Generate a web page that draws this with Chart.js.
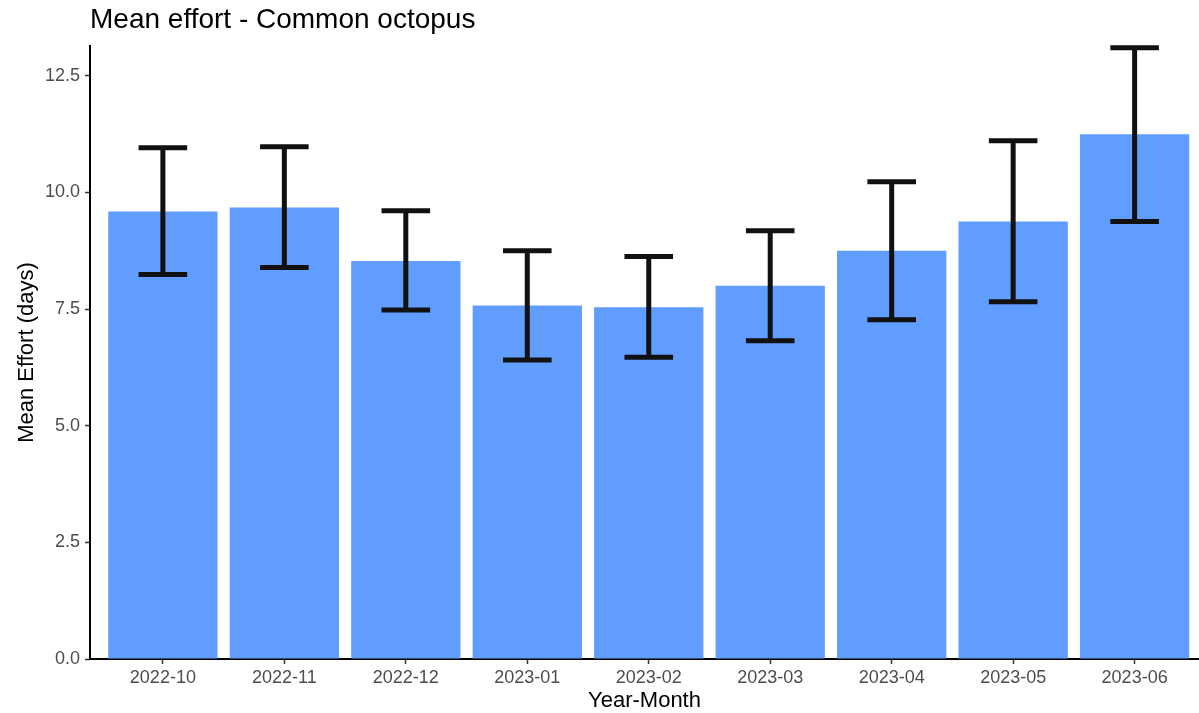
<!DOCTYPE html>
<html>
<head>
<meta charset="utf-8">
<script src="https://cdn.jsdelivr.net/npm/chart.js@4/dist/chart.umd.min.js"></script>
<style>
  html, body { margin: 0; padding: 0; background: #ffffff; }
  #wrap { width: 1199px; height: 713px; }
  canvas { display: block; }
</style>
</head>
<body>
<div id="wrap"><canvas id="c" width="1199" height="713"></canvas></div>
<script>
// ---- Data ----
const categories = ['2022-10', '2022-11', '2022-12', '2023-01', '2023-02', '2023-03', '2023-04', '2023-05', '2023-06'];
const meanEffort = [9.59, 9.68, 8.53, 7.58, 7.54, 8.00, 8.75, 9.38, 11.25];
const errLower   = [8.24, 8.39, 7.48, 6.41, 6.47, 6.82, 7.27, 7.66, 9.38];
const errUpper   = [10.96, 10.98, 9.61, 8.75, 8.63, 9.18, 10.23, 11.11, 13.10];
const yTickValues = [0, 2.5, 5, 7.5, 10, 12.5];

const FONT = '"Liberation Sans", Arial, Helvetica, sans-serif';

const errorBars = {
  id: 'errorBars',
  afterDatasetsDraw(chart) {
    const { ctx, scales: { x, y } } = chart;
    const half = x.getPixelForValue(0.2) - x.getPixelForValue(0);
    ctx.save();
    ctx.strokeStyle = '#111111';
    ctx.lineWidth = 5;
    ctx.lineCap = 'butt';
    categories.forEach((c, i) => {
      const cx = x.getPixelForValue(i);
      const yl = y.getPixelForValue(errLower[i]);
      const yu = y.getPixelForValue(errUpper[i]);
      ctx.beginPath();
      ctx.moveTo(cx, yl); ctx.lineTo(cx, yu);
      ctx.moveTo(cx - half, yu); ctx.lineTo(cx + half, yu);
      ctx.moveTo(cx - half, yl); ctx.lineTo(cx + half, yl);
      ctx.stroke();
    });
    ctx.restore();
  }
};

new Chart(document.getElementById('c'), {
  type: 'bar',
  data: {
    datasets: [{
      data: categories.map((c, i) => ({ x: i, y: meanEffort[i] })),
      backgroundColor: '#619CFF',
      borderWidth: 0,
      categoryPercentage: 1,
      barPercentage: 0.9
    }]
  },
  options: {
    responsive: false,
    animation: false,
    devicePixelRatio: 1,
    layout: { padding: 0 },
    plugins: {
      legend: { display: false },
      tooltip: { enabled: false },
      title: {
        display: true,
        text: 'Mean effort - Common octopus',
        align: 'start',
        fullSize: false,
        color: '#000000',
        font: { family: FONT, size: 28, weight: 'normal', lineHeight: 1.2 },
        padding: { top: 3.2, bottom: 9.2 }
      }
    },
    scales: {
      x: {
        type: 'linear',
        offset: false,
        min: -0.6,
        max: 8.53,
        afterBuildTicks: s => { s.ticks = categories.map((c, i) => ({ value: i })); },
        afterFit: s => { s.height = 54; s.paddingLeft = 0; s.paddingRight = 0; },
        grid: { display: true, drawOnChartArea: false, drawTicks: true, tickLength: 5, tickColor: '#333333', tickWidth: 1.5, offset: false },
        border: { display: true, color: '#000000', width: 2 },
        ticks: {
          callback: v => categories[v],
          color: '#4D4D4D',
          font: { family: FONT, size: 18 },
          padding: 3,
          maxRotation: 0,
          autoSkip: false
        },
        title: {
          display: true,
          text: 'Year-Month',
          color: '#000000',
          font: { family: FONT, size: 22, lineHeight: 1.1 },
          padding: { top: 0, bottom: 0 }
        }
      },
      y: {
        min: 0,
        max: 13.14,
        afterBuildTicks: s => { s.ticks = yTickValues.map(v => ({ value: v })); },
        afterFit: s => { s.width = 90; s.paddingTop = 0; s.paddingBottom = 0; },
        grid: { display: true, drawOnChartArea: false, drawTicks: true, tickLength: 5, tickColor: '#333333', tickWidth: 1.5 },
        border: { display: true, color: '#000000', width: 2 },
        ticks: {
          callback: v => Number(v).toFixed(1),
          color: '#4D4D4D',
          font: { family: FONT, size: 18 },
          padding: 5
        },
        title: {
          display: true,
          text: 'Mean Effort (days)',
          color: '#000000',
          font: { family: FONT, size: 22, lineHeight: 1.2 },
          padding: { top: 13.8, bottom: 0 }
        }
      }
    }
  },
  plugins: [errorBars]
});
</script>
</body>
</html>
